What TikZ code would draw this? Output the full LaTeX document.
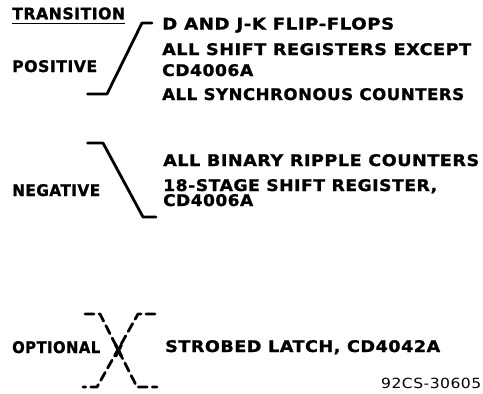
\documentclass[tikz,border=0pt]{standalone}
\usepackage{fontspec}
\usepackage{graphicx}
\usetikzlibrary{calc}
\setmainfont{DejaVu Sans}[LetterSpace=3, BoldFeatures={FakeBold=1.2}]
\newfontfamily\codefont{DejaVu Sans}[LetterSpace=3]
\newcommand\fitto[2]{\resizebox{#1pt}{\height}{#2}}
\begin{document}
\begin{tikzpicture}[x=1pt,y=-1pt,
  lbl/.style={font=\bfseries\fontsize{16}{16}\selectfont, inner sep=0pt, anchor=base west},
  brk/.style={line width=2.8pt, line cap=round, line join=round},
  dbrk/.style={brk, dash pattern=on 9pt off 5pt}]
\useasboundingbox (0,0) rectangle (483,394);
% headings
\node[lbl] (trans) at (12,19.3) {\fitto{113}{TRANSITION}};
\coordinate (ul1) at (12,23.5);
\coordinate (ul2) at (125,23.5);
\draw[line width=1.7pt] (ul1) -- (ul2);
\node[lbl] (pos) at (12,72) {\fitto{85}{POSITIVE}};
\node[lbl] (neg) at (12,196) {\fitto{88}{NEGATIVE}};
\node[lbl] (opt) at (12,353) {\fitto{88}{OPTIONAL}};
% positive bracket
\coordinate (p1) at (87.5,94);
\coordinate (p2) at (107,94);
\coordinate (p3) at (142,23);
\coordinate (p4) at (152,23);
\draw[brk] (p1) -- (p2) -- (p3) -- (p4);
\node[lbl] (d1) at (162,29.5) {\fitto{232}{D AND J-K FLIP-FLOPS}};
\node[lbl] (d2) at (162,55) {\fitto{309}{ALL SHIFT REGISTERS EXCEPT}};
\node[lbl] (d3) at (162,76) {\fitto{91}{CD4006A}};
\node[lbl] (d4) at (162,100) {\fitto{302}{ALL SYNCHRONOUS COUNTERS}};
% negative bracket
\coordinate (n1) at (87.5,143);
\coordinate (n2) at (103,143);
\coordinate (n3) at (143,217);
\coordinate (n4) at (156,217);
\draw[brk] (n1) -- (n2) -- (n3) -- (n4);
\node[lbl] (e1) at (163,166) {\fitto{316}{ALL BINARY RIPPLE COUNTERS}};
\node[lbl] (e2) at (163,191) {\fitto{274}{18-STAGE SHIFT REGISTER,}};
\node[lbl] (e3) at (163,206) {\fitto{90}{CD4006A}};
% optional X
\coordinate (a1) at (85,314);
\coordinate (a2) at (100,314);
\coordinate (a3) at (137,387);
\coordinate (a4) at (157,387);
\coordinate (b1) at (155,314);
\coordinate (b2) at (138,314);
\coordinate (b3) at (97,387);
\coordinate (b4) at (83,387);
\draw[dbrk] (a1) -- (a2) -- (a3) -- (a4);
\draw[dbrk] (b1) -- (b2) -- (b3) -- (b4);
\coordinate (xc) at (118.5,350.5);
\draw[line width=3.2pt, line cap=round] ($(xc)+(-2.8,-5.5)$) -- ($(xc)+(2.8,5.5)$);
\draw[line width=3.2pt, line cap=round] ($(xc)+(2.8,-5.5)$) -- ($(xc)+(-2.8,5.5)$);
\node[lbl] (f1) at (165,352) {\fitto{275}{STROBED LATCH, CD4042A}};
\node[font=\codefont\fontsize{14}{14}\selectfont, inner sep=0pt, anchor=base west] (code) at (381,388) {\fitto{100}{92CS-30605}};
\end{tikzpicture}
\end{document}
